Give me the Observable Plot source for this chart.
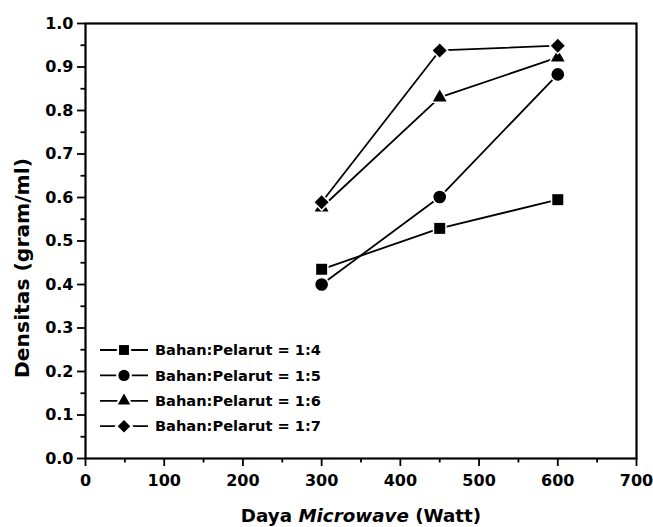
<!DOCTYPE html>
<html>
<head>
<meta charset="utf-8">
<script src="https://cdn.jsdelivr.net/npm/d3@7"></script>
<script src="https://cdn.jsdelivr.net/npm/@observablehq/plot@0.6"></script>
<style>
  html, body { margin: 0; padding: 0; background: #fff; }
</style>
</head>
<body>
<div id="chart"></div>
<script>
// Data
const power = [300, 450, 600];                 // Daya Microwave (Watt)
const ratio14 = [0.435, 0.529, 0.595];
const ratio15 = [0.400, 0.601, 0.883];
const ratio16 = [0.577, 0.830, 0.922];
const ratio17 = [0.589, 0.938, 0.949];
const seriesNames = ["Bahan:Pelarut = 1:4", "Bahan:Pelarut = 1:5", "Bahan:Pelarut = 1:6", "Bahan:Pelarut = 1:7"];
const seriesSymbols = ["square", "circle", "triangle2", "diamond2"];
const xTicks = [0, 100, 200, 300, 400, 500, 600, 700];
const xMinorTicks = [50, 150, 250, 350, 450, 550, 650];
const yTicks = [0.0, 0.1, 0.2, 0.3, 0.4, 0.5, 0.6, 0.7, 0.8, 0.9, 1.0];
const yMinorTicks = [0.05, 0.15, 0.25, 0.35, 0.45, 0.55, 0.65, 0.75, 0.85, 0.95];

const allSeries = [ratio14, ratio15, ratio16, ratio17];
const table = [];
allSeries.forEach((vals, i) => vals.forEach((v, j) => table.push({x: power[j], y: v, s: seriesNames[i], sym: seriesSymbols[i]})));

const symR = {"square": 6.2, "circle": 6.3, "triangle2": 6.6, "diamond2": 6.3};

const marks = [
  Plot.axisX({ticks: xTicks, tickSize: 8, tickPadding: 8, tickFormat: d3.format("d"), label: null, strokeWidth: 1.8}),
  Plot.axisX({ticks: xMinorTicks, tickSize: 4.5, text: null, label: null, strokeWidth: 1.8}),
  Plot.axisY({ticks: yTicks, tickSize: 8, tickPadding: 4, tickFormat: d3.format(".1f"), label: null, strokeWidth: 1.8}),
  Plot.axisY({ticks: yMinorTicks, tickSize: 4.5, text: null, label: null, strokeWidth: 1.8}),
  Plot.frame({stroke: "black", strokeWidth: 2.2}),
];
seriesNames.forEach((name, i) => {
  marks.push(Plot.line(table.filter(d => d.s === name), {x: "x", y: "y", stroke: "black", strokeWidth: 1.8}));
});
seriesNames.forEach((name, i) => {
  marks.push(Plot.dot(table.filter(d => d.s === name), {
    x: "x", y: "y", symbol: () => seriesSymbols[i], r: symR[seriesSymbols[i]],
    fill: "black", stroke: "white", strokeWidth: 3, paintOrder: "stroke"
  }));
});

const chart = Plot.plot({
  width: 653,
  height: 527,
  marginLeft: 85,
  marginRight: 17,
  marginTop: 23,
  marginBottom: 69,
  x: {domain: [0, 700]},
  y: {domain: [0, 1]},
  symbol: {type: "identity"},
  style: {fontFamily: "DejaVu Sans", fontWeight: "bold", fontSize: "16px", color: "black", background: "white"},
  marks
});

const svg = d3.select(chart);

// Axis titles
svg.append("text")
  .attr("x", 361).attr("y", 522)
  .attr("text-anchor", "middle")
  .attr("font-family", "DejaVu Sans").attr("font-weight", "bold").attr("font-size", 18.3).attr("fill", "black")
  .call(t => {
    t.append("tspan").text("Daya ");
    t.append("tspan").attr("font-style", "italic").text("Microwave");
    t.append("tspan").text(" (Watt)");
  });
svg.append("text")
  .attr("transform", "translate(29,268) rotate(-90)")
  .attr("text-anchor", "middle")
  .attr("font-family", "DejaVu Sans").attr("font-weight", "bold").attr("font-size", 20.3).attr("fill", "black")
  .text("Densitas (gram/ml)");

// Legend
const symMap = {"square": d3.symbolSquare, "circle": d3.symbolCircle, "triangle2": d3.symbolTriangle2, "diamond2": d3.symbolDiamond2};
const legend = svg.append("g").attr("transform", "translate(100,350)");
seriesNames.forEach((name, i) => {
  const g = legend.append("g").attr("transform", `translate(0,${i * 25.4})`);
  g.append("line").attr("x1", 0).attr("x2", 48).attr("y1", 0).attr("y2", 0).attr("stroke", "black").attr("stroke-width", 1.8);
  const r = symR[seriesSymbols[i]] * 0.9;
  g.append("path").attr("transform", "translate(24,0)")
    .attr("d", d3.symbol(symMap[seriesSymbols[i]], Math.PI * r * r)())
    .attr("fill", "black").attr("stroke", "white").attr("stroke-width", 4.5).attr("paint-order", "stroke");
  g.append("text").attr("x", 55).attr("y", 0).attr("dy", "0.36em")
    .attr("text-anchor", "start")
    .attr("font-family", "DejaVu Sans").attr("font-weight", "bold").attr("font-size", 14.6).attr("fill", "black")
    .text(name);
});

document.getElementById("chart").appendChild(chart);
</script>
</body>
</html>
